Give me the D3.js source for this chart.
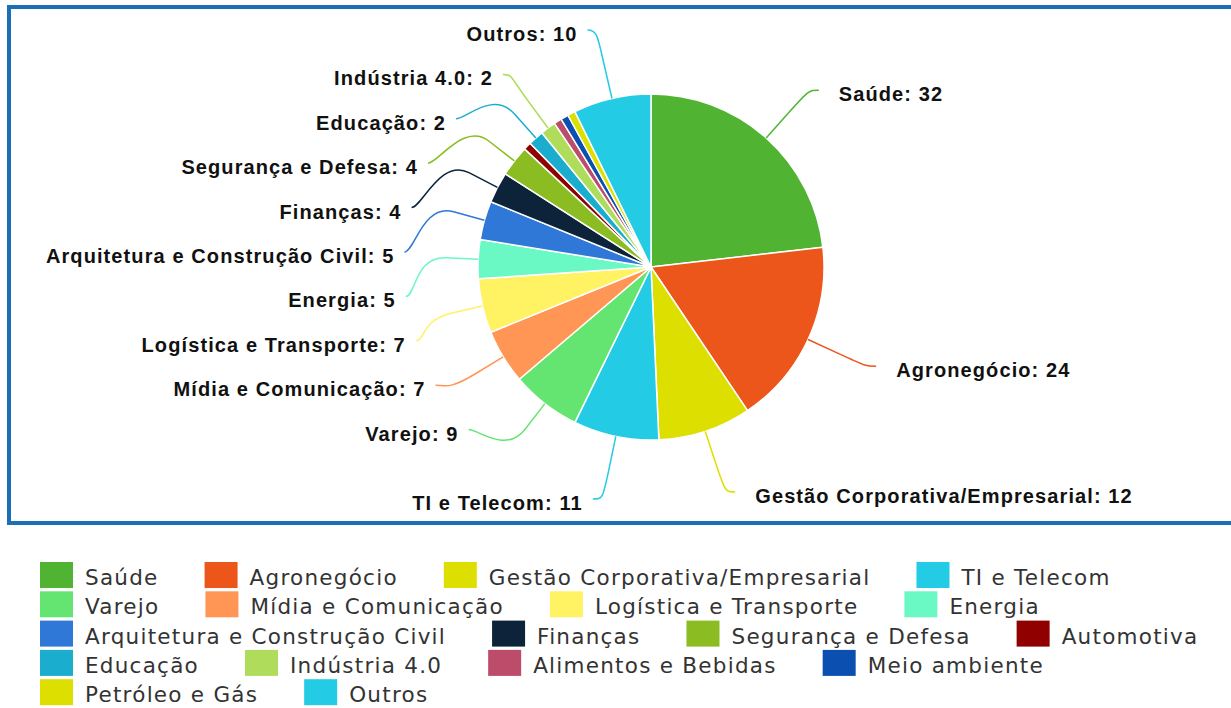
<!DOCTYPE html>
<html>
<head>
<meta charset="utf-8">
<script src="https://cdn.jsdelivr.net/npm/d3@7"></script>
<style>
  body { margin: 0; background: #fff; }
</style>
</head>
<body>
<svg id="chart" width="1231" height="708"></svg>
<script>
// categories, in slice order (clockwise from 12 o'clock)
const categories = [
  "Saúde", "Agronegócio", "Gestão Corporativa/Empresarial", "TI e Telecom",
  "Varejo", "Mídia e Comunicação", "Logística e Transporte", "Energia",
  "Arquitetura e Construção Civil", "Finanças", "Segurança e Defesa", "Automotiva",
  "Educação", "Indústria 4.0", "Alimentos e Bebidas", "Meio ambiente",
  "Petróleo e Gás", "Outros"
];
const values = [32, 24, 12, 11, 9, 7, 7, 5, 5, 4, 4, 1, 2, 2, 1, 1, 1, 10];
const colors = [
  "#50b432", "#ed561b", "#dddf00", "#24cbe5", "#64e572", "#ff9655", "#fff263", "#6af9c4",
  "#2f78d8", "#0d233a", "#8bbc21", "#910000", "#1aadce", "#b0dc5c", "#bd4b6a", "#0b4fb0",
  "#dddf00", "#24cbe5"
];

const cx = 651, cy = 267, radius = 173, labelDist = 64, slotH = 44.4;
const labelR = radius + labelDist;

const svg = d3.select("#chart");

// frame
svg.append("rect")
  .attr("x", 9).attr("y", 7)
  .attr("width", 1250).attr("height", 516)
  .attr("fill", "#fff")
  .attr("stroke", "#1b6fb6")
  .attr("stroke-width", 4);

const data = categories.map((c, i) => ({ name: c, value: values[i], color: colors[i] }));
const pie = d3.pie().sort(null).value(d => d.value);
const arcs = pie(data);
const arc = d3.arc().innerRadius(0).outerRadius(radius);

const g = svg.append("g").attr("transform", "translate(" + cx + "," + cy + ")");
g.selectAll("path.slice")
  .data(arcs)
  .enter()
  .append("path")
  .attr("class", "slice")
  .attr("d", arc)
  .attr("fill", d => d.data.color)
  .attr("stroke", "#fff")
  .attr("stroke-width", 1.5)
  .attr("stroke-linejoin", "round");

// data labels, slot layout per half
function pt(a, r) {
  return [cx + r * Math.sin(a), cy - r * Math.cos(a)];
}
function getX(y, left) {
  let s = (y - cy) / labelR;
  s = Math.max(-1, Math.min(1, s));
  return cx + (left ? -1 : 1) * Math.cos(Math.asin(s)) * labelR;
}

const points = arcs.map((d, i) => {
  const a = (d.startAngle + d.endAngle) / 2;
  const nat = pt(a, labelR);
  return { d: d, i: i, a: a, ny: nat[1], left: a > Math.PI };
});

const slots = [];
for (let p = cy - labelR; p <= cy + labelR + 0.01; p += slotH) slots.push(p);

[false, true].forEach(left => {
  let half = points.filter(p => p.left === left).sort((a, b) => a.ny - b.ny);
  if (half.length > slots.length) {
    const ranked = half.slice().sort((a, b) => b.d.value - a.d.value || a.i - b.i);
    const keep = new Set(ranked.slice(0, slots.length));
    half = half.filter(p => keep.has(p));
  }
  const free = slots.map(() => true);
  const used = [];
  half.forEach((p, j) => {
    let best = 0, bd = Infinity;
    slots.forEach((s, k) => {
      const dd = Math.abs(s - p.ny);
      if (dd < bd) { bd = dd; best = k; }
    });
    if (best < j && free[j]) best = j;
    else if (slots.length < half.length - j + best && free[j]) {
      best = slots.length - half.length + j;
      while (!free[best]) best++;
    } else {
      while (best < slots.length && !free[best]) best++;
    }
    free[best] = false;
    used.push(best);
  });
  used.sort((a, b) => a - b);
  half.forEach((p, j) => {
    const k = used[j];
    let y = slots[k];
    if ((p.ny > y && free[k + 1] !== false) || (p.ny < y && free[k - 1] !== false)) y = p.ny;
    const edge = (k === 0 || k === slots.length - 1);
    p.x = getX(edge ? p.ny : y, left);
    p.y = y;
    p.show = true;
  });
});

const shown = points.filter(p => p.show);
const side = p => (p.left ? -1 : 1);

svg.append("g").selectAll("path")
  .data(shown)
  .enter()
  .append("path")
  .attr("fill", "none")
  .attr("stroke", p => p.d.data.color)
  .attr("stroke-width", 1.5)
  .attr("d", p => {
    const b2 = pt(p.a, radius + labelDist / 2);
    const b3 = pt(p.a, radius);
    const path = d3.path();
    path.moveTo(p.x + side(p) * 10, p.y);
    path.bezierCurveTo(p.x, p.y, 2 * b2[0] - b3[0], 2 * b2[1] - b3[1], b2[0], b2[1]);
    path.lineTo(b3[0], b3[1]);
    return path.toString();
  });

svg.append("g").selectAll("text")
  .data(shown)
  .enter()
  .append("text")
  .attr("x", p => p.left ? p.x - 20 : p.x + 30)
  .attr("y", p => p.y + 11)
  .attr("text-anchor", p => p.left ? "end" : "start")
  .attr("font-family", "'Liberation Sans', Arial, sans-serif")
  .attr("font-weight", "bold")
  .attr("font-size", "20px")
  .attr("letter-spacing", "1.1px")
  .attr("fill", "#111")
  .text(p => p.d.data.name + ": " + p.d.data.value);

// legend, horizontal flow
const legend = svg.append("g");
const legX0 = 40, legMax = 1215, rowH = 29.3, legY0 = 561;
let lx = legX0, row = 0;
data.forEach(d => {
  const item = legend.append("g");
  item.append("rect")
    .attr("x", 0).attr("y", 1)
    .attr("width", 33).attr("height", 26)
    .attr("fill", d.color);
  const t = item.append("text")
    .attr("x", 45).attr("y", 24)
    .attr("font-family", "'DejaVu Sans', Verdana, sans-serif")
    .attr("font-size", "21.5px")
    .attr("letter-spacing", "1.25px")
    .attr("fill", "#333")
    .text(d.name);
  const w = 45 + t.node().getComputedTextLength();
  if (lx + w > legMax && lx > legX0) { row++; lx = legX0; }
  item.attr("transform", "translate(" + lx + "," + (legY0 + row * rowH) + ")");
  lx += w + 46;
});
</script>
</body>
</html>
